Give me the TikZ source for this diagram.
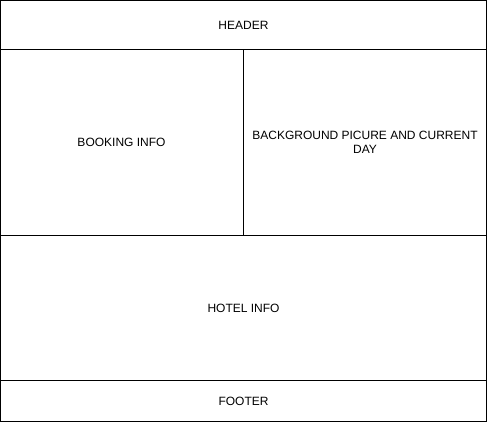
\documentclass[tikz,border=0pt]{standalone}
\usepackage{fontspec}
\setmainfont{Liberation Sans}
\begin{document}
\begin{tikzpicture}[x=1pt,y=-1pt,
  box/.style={draw=black,line width=1pt},
  lbl/.style={font=\fontsize{12}{14}\selectfont,align=center,inner sep=0pt}]
\useasboundingbox (0,0) rectangle (487,422);
\draw[box] (0.5,0.5) rectangle (486.5,49.5);
\draw[box] (0.5,49.5) rectangle (243.5,235.5);
\draw[box] (243.5,49.5) rectangle (486.5,235.5);
\draw[box] (0.5,235.5) rectangle (486.5,380.5);
\draw[box] (0.5,380.5) rectangle (486.5,421.5);
\node[lbl] (header) at (243.5,25) {HEADER};
\node[lbl] (booking) at (121.5,142.5) {BOOKING INFO};
\node[lbl] (bg) at (365,142.5) {BACKGROUND PICURE AND CURRENT\\DAY};
\node[lbl] (hotel) at (243.5,308) {HOTEL INFO};
\node[lbl] (footer) at (243.5,401) {FOOTER};
\end{tikzpicture}
\end{document}
